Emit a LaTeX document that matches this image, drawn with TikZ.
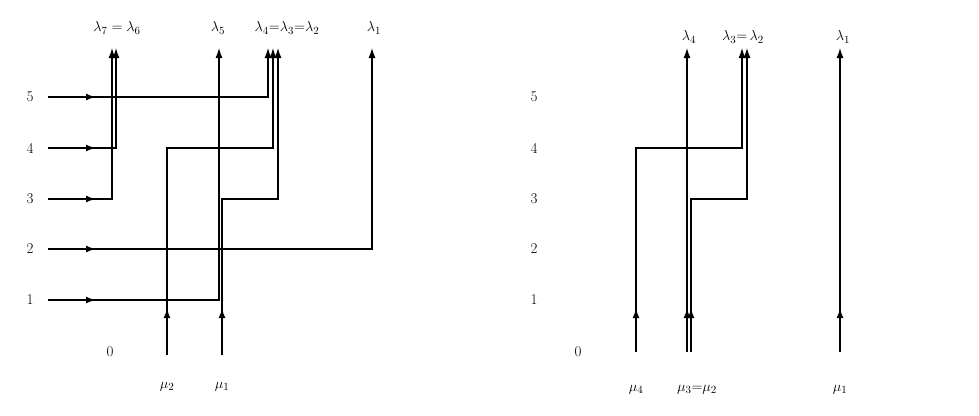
\documentclass[tikz,border=0pt]{standalone}
\usetikzlibrary{arrows.meta,positioning}
\tikzset{x=1pt, y=-1pt,
        wire/.style={draw, line width=1.2pt}, % thin path of a unit
        feed/.style={draw, line width=2pt, -{Latex[length=10pt,width=7pt]}}, % short input arrow
        outarrow/.style={wire, -{Latex[length=10pt,width=7pt]}},
        lab/.style={inner sep=1pt, font=\fontsize{15}{18}\selectfont}
        }
\begin{document}
\begin{tikzpicture}
    \useasboundingbox (0,0) rectangle (979,415);
    % row labels
    \foreach \r/\y in {5/97,4/148,3/199,2/249,1/300} {
        \node[lab] (l\r) at (30,\y) {\r};
        \node[lab] (r\r) at (534,\y) {\r};
    }
    \node[lab] (l0) at (110,352) {0};
    \node[lab] (r0) at (578,352) {0};

    % left: top labels
    \node[lab] (la76)  at (117,28) {$\lambda_7=\lambda_6$};
    \node[lab] (la5)   at (218,28) {$\lambda_5$};
    \node[lab] (la432) at (287,28) {$\lambda_4{=}\lambda_3{=}\lambda_2$};
    \node[lab] (la1)   at (374,28) {$\lambda_1$};
    \node[lab] (lm2)   at (167,387) {$\mu_2$};
    \node[lab] (lm1)   at (222,387) {$\mu_1$};

    % left: input arrows on the rows
    \foreach \y in {97,148,199,249,300} {
        \coordinate (in\y) at (48,\y);
        \draw[feed] (in\y) -- (96,\y);
    }
    \draw[feed] (167,355) -- (167,308);
    \draw[feed] (222,355) -- (222,308);

    % left: paths
    \draw[outarrow] (in199) -- (112,199) -- (112,48);
    \draw[outarrow] (in148) -- (116,148) -- (116,48);
    \draw[outarrow] (in97)  -- (268,97)  -- (268,48);
    \draw[outarrow] (167,355) -- (167,148) -- (273,148) -- (273,48);
    \draw[outarrow] (222,355) -- (222,199) -- (278,199) -- (278,48);
    \draw[outarrow] (in300) -- (219,300) -- (219,48);
    \draw[outarrow] (in249) -- (372,249) -- (372,48);

    % right: labels
    \node[lab] (ra4)  at (689,37) {$\lambda_4$};
    \node[lab] (ra32) at (743,37) {$\lambda_3{=}\,\lambda_2$};
    \node[lab] (ra1)  at (843,37) {$\lambda_1$};
    \node[lab] (rm4)  at (636,390) {$\mu_4$};
    \node[lab] (rm32) at (697,390) {$\mu_3{=}\mu_2$};
    \node[lab] (rm1)  at (840,390) {$\mu_1$};

    % right: inputs and paths
    \foreach \x in {636,687,691,840} {
        \coordinate (b\x) at (\x,352);
        \draw[feed] (b\x) -- (\x,308);
    }
    \draw[outarrow] (b636) -- (636,148) -- (742,148) -- (742,48);
    \draw[outarrow] (b687) -- (687,48);
    \draw[outarrow] (b691) -- (691,199) -- (747,199) -- (747,48);
    \draw[outarrow] (b840) -- (840,48);
\end{tikzpicture}
\end{document}
